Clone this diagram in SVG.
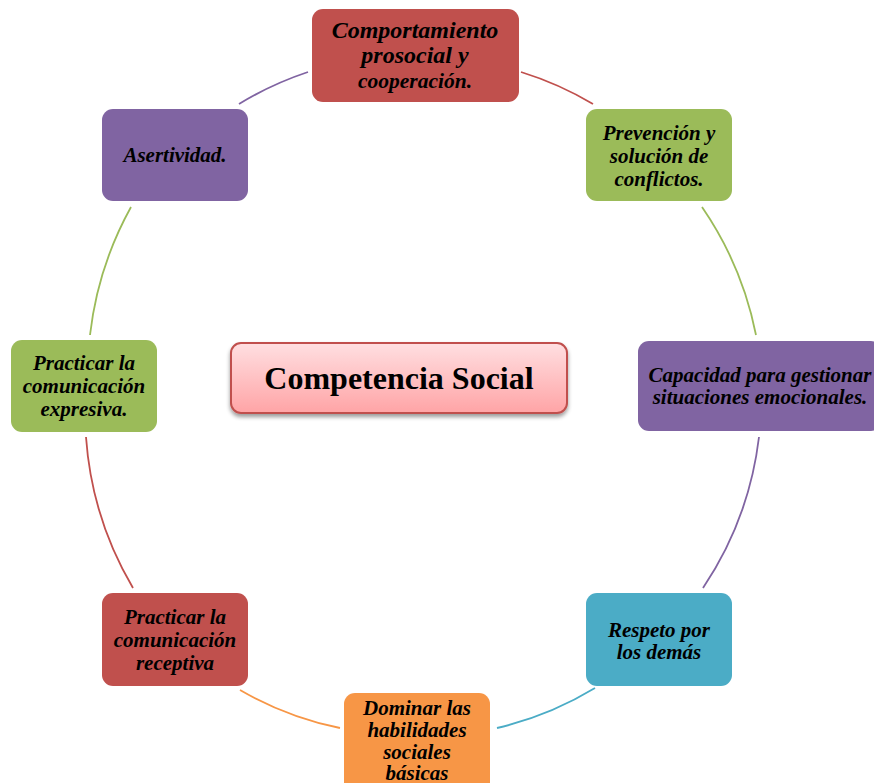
<svg xmlns="http://www.w3.org/2000/svg" width="874" height="783" viewBox="0 0 874 783">
<style>
.t{font-family:"Liberation Serif","Times New Roman",serif;font-weight:bold;font-style:italic;font-size:21px;fill:#000;text-anchor:middle}
.big{font-size:24px}
.c{font-family:"Liberation Serif","Times New Roman",serif;font-weight:bold;font-size:32px;fill:#000;text-anchor:middle}
.arc{fill:none;stroke-width:1.8}
.red{fill:#c0504d}.green{fill:#9bbb59}.purple{fill:#8064a2}.teal{fill:#4bacc6}.orange{fill:#f79646}
</style>
<defs>
<linearGradient id="pg" x1="0" y1="0" x2="0" y2="1">
<stop offset="0" stop-color="#ffdfe1"/>
<stop offset="1" stop-color="#ffa4a6"/>
</linearGradient>
<filter id="sh" x="-10%" y="-20%" width="120%" height="150%">
<feGaussianBlur in="SourceAlpha" stdDeviation="2"/>
<feOffset dx="0" dy="3" result="b"/>
<feComponentTransfer><feFuncA type="linear" slope="0.4"/></feComponentTransfer>
<feMerge><feMergeNode/><feMergeNode in="SourceGraphic"/></feMerge>
</filter>
</defs>
<rect width="874" height="783" fill="#fff"/>
<g id="connectors">
<path class="arc" stroke="#c0504d" d="M521,72 A338,342 0 0 1 593,104"/>
<path class="arc" stroke="#9bbb59" d="M702,207 A338,342 0 0 1 756,335"/>
<path class="arc" stroke="#8064a2" d="M759,437 A338,342 0 0 1 703,588"/>
<path class="arc" stroke="#4bacc6" d="M595,688 A338,342 0 0 1 497,728"/>
<path class="arc" stroke="#f79646" d="M340,728 A338,342 0 0 1 240,690"/>
<path class="arc" stroke="#c0504d" d="M133,588 A338,342 0 0 1 86,437"/>
<path class="arc" stroke="#9bbb59" d="M90,335 A338,342 0 0 1 131,207"/>
<path class="arc" stroke="#8064a2" d="M239,104 A338,342 0 0 1 308,72"/>
</g>
<g id="center">
<rect x="231" y="343" width="336" height="70" rx="10" fill="url(#pg)" stroke="#c0504d" stroke-width="2" filter="url(#sh)"/>
<text class="c" x="399" y="389">Competencia Social</text>
</g>
<g id="n1">
<rect class="red" x="312" y="9" width="207" height="93" rx="11"/>
<text class="t big" x="415" y="38">Comportamiento</text>
<text class="t big" x="415" y="63">prosocial y</text>
<text class="t" x="415" y="88" style="font-size:21.5px">cooperación.</text>
</g>
<g id="n2">
<rect class="green" x="586" y="109" width="146" height="92" rx="11"/>
<text class="t" x="659" y="140">Prevención y</text>
<text class="t" x="659" y="163">solución de</text>
<text class="t" x="659" y="186">conflictos.</text>
</g>
<g id="n3">
<rect class="purple" x="638" y="341" width="244" height="90" rx="11"/>
<text class="t" x="760" y="382">Capacidad para gestionar</text>
<text class="t" x="760" y="404">situaciones emocionales.</text>
</g>
<g id="n4">
<rect class="teal" x="586" y="593" width="146" height="93" rx="11"/>
<text class="t" x="659" y="637">Respeto por</text>
<text class="t" x="659" y="659">los demás</text>
</g>
<g id="n5">
<rect class="orange" x="344" y="693" width="146" height="100" rx="11"/>
<text class="t" x="417" y="715">Dominar las</text>
<text class="t" x="417" y="737">habilidades</text>
<text class="t" x="417" y="759">sociales</text>
<text class="t" x="417" y="780">básicas</text>
</g>
<g id="n6">
<rect class="red" x="102" y="593" width="146" height="93" rx="11"/>
<text class="t" x="175" y="624">Practicar la</text>
<text class="t" x="175" y="647">comunicación</text>
<text class="t" x="175" y="670">receptiva</text>
</g>
<g id="n7">
<rect class="green" x="11" y="340" width="146" height="92" rx="11"/>
<text class="t" x="84" y="370">Practicar la</text>
<text class="t" x="84" y="393">comunicación</text>
<text class="t" x="84" y="416">expresiva.</text>
</g>
<g id="n8">
<rect class="purple" x="102" y="109" width="146" height="92" rx="11"/>
<text class="t" x="175" y="162">Asertividad.</text>
</g>
</svg>
